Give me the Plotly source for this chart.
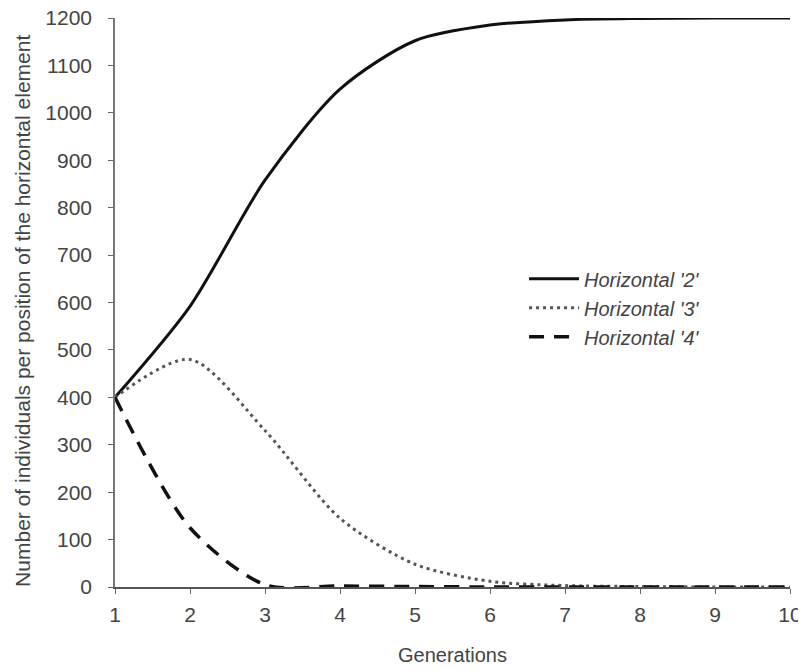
import plotly.graph_objects as go

generations = [1, 2, 3, 4, 5, 6, 7, 8, 9, 10]
horizontal_2 = [400, 592, 858, 1050, 1152, 1185, 1196, 1199, 1200, 1200]
horizontal_3 = [400, 480, 330, 145, 48, 12, 3, 1, 0, 0]
horizontal_4 = [400, 125, 5, 2, 1, 0, 0, 0, 0, 0]
series_names = ["Horizontal '2'", "Horizontal '3'", "Horizontal '4'"]
y_ticks = list(range(0, 1201, 100))
y_title = "Number of individuals per position of the horizontal element"

fig = go.Figure()
fig.add_trace(go.Scatter(x=generations, y=horizontal_2, name=series_names[0], mode="lines",
                         line=dict(color="#111111", width=3, shape="spline", smoothing=0.8), cliponaxis=False))
fig.add_trace(go.Scatter(x=generations, y=horizontal_3, name=series_names[1], mode="lines",
                         line=dict(color="#555555", width=3, shape="spline", smoothing=0.8, dash="3px,4px"), cliponaxis=False))
fig.add_trace(go.Scatter(x=generations, y=horizontal_4, name=series_names[2], mode="lines",
                         line=dict(color="#111111", width=3.5, shape="spline", smoothing=0.8, dash="15px,10px"), cliponaxis=False))

font = "Liberation Sans, Arial, sans-serif"
fig.update_layout(
    width=806, height=671,
    margin=dict(l=107, r=24, t=10, b=92),
    paper_bgcolor="white", plot_bgcolor="white",
    font=dict(family=font, size=21, color="#444444"),
    showlegend=True,
    legend=dict(x=0.606, y=0.576, xanchor="left", yanchor="top",
                font=dict(family=font, size=20, color="#444444", style="italic"),
                bgcolor="rgba(0,0,0,0)", tracegroupgap=0, itemwidth=50),
    xaxis=dict(range=[1, 10], tickmode="array", tickvals=generations, ticks="outside",
               ticklen=8, tickcolor="rgba(0,0,0,0)", showline=True, linecolor="#555555", linewidth=2,
               minor=dict(tickmode="array", tickvals=generations, ticks="outside", ticklen=5,
                          tickcolor="#666666", showgrid=False),
               showgrid=False, zeroline=False, automargin=False,
               ticklabeloverflow="allow",
               title=dict(text="Generations", standoff=23, font=dict(size=20))),
    yaxis=dict(range=[0, 1200], tickmode="array", tickvals=y_ticks, ticks="outside",
               ticklen=17, tickcolor="rgba(0,0,0,0)", showline=True, linecolor="#777777", linewidth=1.5,
               minor=dict(tickmode="array", tickvals=y_ticks, ticks="outside", ticklen=5,
                          tickcolor="#666666", showgrid=False),
               showgrid=False, zeroline=False, automargin=False,
               ticklabeloverflow="allow"),
    annotations=[dict(text=y_title, xref="paper", yref="paper", x=-0.138, y=0.485,
                      xanchor="center", yanchor="middle", textangle=-90, showarrow=False,
                      font=dict(family=font, size=21, color="#444444"))],
)
fig.write_html("out.html")
